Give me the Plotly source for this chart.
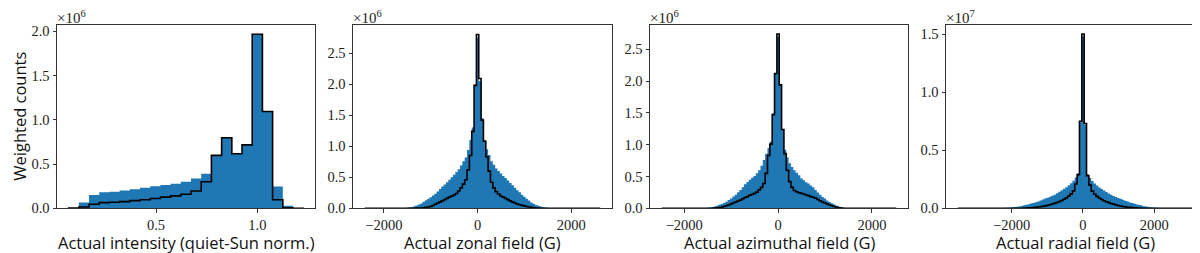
import plotly.graph_objects as go

# ---------------- data ----------------
# Panel 1: intensity (counts in units of 1e6)
int_bin_start = 0.069
int_bin_width = 0.0503
int_blue = [0.0, 0.065, 0.152, 0.181, 0.188, 0.203, 0.217, 0.232, 0.250, 0.264, 0.279, 0.300,
            0.337, 0.390, 0.598, 0.797, 0.616, 0.717, 1.967, 1.094, 0.246, 0.029, 0.0]
int_black = [0.002, 0.015, 0.047, 0.065, 0.069, 0.076, 0.087, 0.098, 0.112, 0.127, 0.141, 0.159,
             0.196, 0.300, 0.598, 0.797, 0.616, 0.717, 1.967, 1.094, 0.098, 0.007, 0.001]

# Panel 2: zonal field (G), counts in 1e6
zon_bin_start = -1625
zon_bin_width = 50
zon_blue = [0.003, 0.006, 0.010, 0.016, 0.022, 0.032, 0.045, 0.060,
            0.080, 0.105, 0.130, 0.155, 0.180, 0.205, 0.235, 0.270,
            0.310, 0.350, 0.385, 0.420, 0.460, 0.500, 0.540, 0.585,
            0.630, 0.690, 0.760, 0.820, 0.940, 1.100, 1.300, 1.980,
            2.750,
            2.050, 1.450, 1.100, 0.950, 0.860, 0.760, 0.700, 0.640,
            0.600, 0.560, 0.520, 0.490, 0.450, 0.410, 0.370, 0.330,
            0.290, 0.260, 0.220, 0.185, 0.155, 0.125, 0.095, 0.075,
            0.055, 0.040, 0.028, 0.020, 0.013, 0.008, 0.005, 0.003]
zon_black = [0.000, 0.000, 0.000, 0.000, 0.001, 0.002, 0.003, 0.004,
             0.005, 0.010, 0.015, 0.022, 0.030, 0.045, 0.065, 0.085,
             0.100, 0.120, 0.140, 0.160, 0.180, 0.195, 0.215, 0.240,
             0.280, 0.330, 0.390, 0.460, 0.620, 0.850, 1.240, 1.980,
             2.800,
             2.090, 1.420, 1.080, 0.830, 0.600, 0.420, 0.330, 0.270,
             0.230, 0.200, 0.180, 0.160, 0.140, 0.120, 0.100, 0.085,
             0.070, 0.058, 0.048, 0.040, 0.030, 0.022, 0.015, 0.010,
             0.006, 0.004, 0.002, 0.001, 0.000, 0.000, 0.000, 0.000]
zon_range = [-2409, 2618]

# Panel 3: azimuthal field (G), counts in 1e6
azi_bin_start = -1625
azi_bin_width = 50
azi_blue = [0.002, 0.004, 0.008, 0.013, 0.020, 0.030, 0.042, 0.055,
            0.068, 0.085, 0.105, 0.130, 0.155, 0.185, 0.215, 0.255,
            0.290, 0.330, 0.380, 0.415, 0.450, 0.480, 0.510, 0.550,
            0.600, 0.670, 0.760, 0.860, 0.950, 1.050, 1.500, 2.120,
            2.700,
            1.940, 1.240, 0.920, 0.800, 0.710, 0.650, 0.600, 0.560,
            0.520, 0.470, 0.440, 0.410, 0.390, 0.360, 0.330, 0.290,
            0.250, 0.215, 0.180, 0.155, 0.125, 0.100, 0.080, 0.060,
            0.042, 0.028, 0.018, 0.011, 0.006, 0.003, 0.002, 0.001]
azi_black = [0.000, 0.000, 0.000, 0.001, 0.002, 0.004, 0.007, 0.012,
             0.018, 0.028, 0.040, 0.052, 0.068, 0.083, 0.098, 0.115,
             0.130, 0.150, 0.170, 0.185, 0.205, 0.220, 0.235, 0.255,
             0.290, 0.330, 0.390, 0.550, 0.830, 1.010, 1.470, 2.120,
             2.740,
             1.940, 1.240, 0.860, 0.600, 0.420, 0.330, 0.280, 0.260,
             0.245, 0.235, 0.225, 0.210, 0.200, 0.185, 0.175, 0.160,
             0.140, 0.120, 0.100, 0.085, 0.068, 0.052, 0.040, 0.028,
             0.018, 0.010, 0.005, 0.002, 0.001, 0.000, 0.000, 0.000]
azi_range = [-2480, 2520]

# Panel 4: radial field (G), counts in 1e7
rad_bin_start = -2343
rad_bin_width = 66
rad_blue = [0.003, 0.004, 0.005, 0.006, 0.007, 0.009, 0.011, 0.013, 0.016, 0.020,
            0.026, 0.031, 0.036, 0.041, 0.047, 0.053, 0.060, 0.068, 0.076, 0.084,
            0.092, 0.100, 0.109, 0.118, 0.130, 0.142, 0.155, 0.168, 0.182, 0.198,
            0.215, 0.238, 0.265, 0.300, 0.740,
            1.480,
            0.720, 0.295, 0.262, 0.236, 0.213, 0.196, 0.180, 0.166, 0.153, 0.140,
            0.128, 0.116, 0.107, 0.098, 0.090, 0.082, 0.074, 0.066, 0.058, 0.051,
            0.045, 0.039, 0.034, 0.029, 0.024, 0.019, 0.015, 0.012, 0.010, 0.008,
            0.006, 0.005, 0.004, 0.003, 0.002]
rad_black = [0.000, 0.000, 0.000, 0.000, 0.000, 0.000, 0.001, 0.001, 0.001, 0.001,
             0.002, 0.003, 0.004, 0.005, 0.007, 0.009, 0.011, 0.014, 0.017, 0.021,
             0.026, 0.031, 0.037, 0.043, 0.050, 0.058, 0.068, 0.078, 0.090, 0.105,
             0.125, 0.150, 0.210, 0.290, 0.750,
             1.500,
             0.730, 0.280, 0.200, 0.148, 0.122, 0.103, 0.088, 0.076, 0.066, 0.057,
             0.049, 0.042, 0.036, 0.030, 0.025, 0.020, 0.016, 0.013, 0.010, 0.008,
             0.006, 0.004, 0.003, 0.002, 0.001, 0.001, 0.001, 0.000, 0.000, 0.000,
             0.000, 0.000, 0.000, 0.000, 0.000]
rad_range = [-3510, 3090]

x_titles = ["Actual intensity (quiet-Sun norm.)", "Actual zonal field (G)",
            "Actual azimuthal field (G)", "Actual radial field (G)"]
y_title = "Weighted counts"
exponents = ["6", "6", "6", "7"]

x_tickvals = [[0.5, 1.0], [-2000, 0, 2000], [-2000, 0, 2000], [-2000, 0, 2000]]
x_ticktext = [["0.5", "1.0"], ["\u22122000", "0", "2000"], ["\u22122000", "0", "2000"],
              ["\u22122000", "0", "2000"]]
y_tickvals = [[0, 0.5, 1.0, 1.5, 2.0], [0, 0.5, 1.0, 1.5, 2.0, 2.5],
              [0, 0.5, 1.0, 1.5, 2.0, 2.5], [0, 0.5, 1.0, 1.5]]
y_ticktext = [["0.0", "0.5", "1.0", "1.5", "2.0"], ["0.0", "0.5", "1.0", "1.5", "2.0", "2.5"],
              ["0.0", "0.5", "1.0", "1.5", "2.0", "2.5"], ["0.0", "0.5", "1.0", "1.5"]]

# ---------------- layout parameters ----------------
W, H = 1200, 253
x_dom_px = [(49, 307), (345, 604), (642, 900), (938, 1197)]
y_dom_px = (16.7, 206.7)
x_ranges = [[0.0116, 1.284], [-2660, 2870], [-2730, 2770], [-3840, 3420]]
y_ranges = [[0, 2.07], [0, 2.95], [0, 2.88], [0, 1.577]]
xtitle_y_px = 242
ytitle_x_px = 12

BLUE = "#1f77b4"
SERIF = "Liberation Serif, DejaVu Serif, serif"
SANS = "Open Sans, Lato, sans-serif"


def fill_xy(start, width, vals):
    n = len(vals)
    edges = [start + i * width for i in range(n + 1)]
    return [edges[0]] + edges[:n] + [edges[n]], [0] + list(vals) + [0]


def step_xy(lo, hi, start, width, vals):
    n = len(vals)
    edges = [start + i * width for i in range(n + 1)]
    xs = [lo, edges[0]] + edges[:n] + [edges[n], hi]
    ys = [0, 0] + list(vals) + [0, 0]
    return xs, ys


panels = [
    (int_bin_start, int_bin_width, int_blue, int_black,
     [int_bin_start, int_bin_start + int_bin_width * len(int_black)]),
    (zon_bin_start, zon_bin_width, zon_blue, zon_black, zon_range),
    (azi_bin_start, azi_bin_width, azi_blue, azi_black, azi_range),
    (rad_bin_start, rad_bin_width, rad_blue, rad_black, rad_range),
]

fig = go.Figure()
layout = dict(
    width=W, height=H, margin=dict(l=0, r=0, t=0, b=0),
    paper_bgcolor="white", plot_bgcolor="white", showlegend=False,
)
annotations = []
ydom = [(H - y_dom_px[1]) / H, (H - y_dom_px[0]) / H]

for i, (start, width, blue, black, rng) in enumerate(panels):
    k = "" if i == 0 else str(i + 1)
    xa, ya = "x" + k, "y" + k
    bx, by = fill_xy(start, width, blue)
    fig.add_trace(go.Scatter(
        x=bx, y=by, mode="lines", line=dict(width=0, shape="hv", color=BLUE),
        fill="tozeroy", fillcolor=BLUE, xaxis=xa, yaxis=ya, hoverinfo="skip"))
    sx, sy = step_xy(rng[0], rng[1], start, width, black)
    fig.add_trace(go.Scatter(
        x=sx, y=sy, mode="lines", line=dict(color="black", width=1.6, shape="hv"),
        xaxis=xa, yaxis=ya, hoverinfo="skip"))

    axis_common = dict(
        showline=True, mirror=True, linecolor="#333", linewidth=1,
        ticks="outside", ticklen=3.5, tickwidth=1, tickcolor="#333",
        showgrid=False, zeroline=False,
        tickfont=dict(family=SERIF, size=14.5, color="#222"),
    )
    layout["xaxis" + k] = dict(
        axis_common, domain=[x_dom_px[i][0] / W, x_dom_px[i][1] / W],
        range=x_ranges[i], anchor=ya,
        tickvals=x_tickvals[i], ticktext=x_ticktext[i],
    )
    layout["yaxis" + k] = dict(
        axis_common, domain=ydom, range=y_ranges[i], anchor=xa,
        tickvals=y_tickvals[i], ticktext=y_ticktext[i],
    )
    annotations.append(dict(
        text="\u00d710<sup>" + exponents[i] + "</sup>",
        xref="paper", yref="paper",
        x=x_dom_px[i][0] / W, y=ydom[1], xanchor="left", yanchor="bottom",
        showarrow=False, font=dict(family=SERIF, size=15, color="#222"),
        xshift=-2, yshift=-3,
    ))
    annotations.append(dict(
        text=x_titles[i], xref="paper", yref="paper",
        x=(x_dom_px[i][0] + x_dom_px[i][1]) / 2 / W, y=(H - xtitle_y_px) / H,
        xanchor="center", yanchor="middle", showarrow=False,
        font=dict(family=SANS, size=16.5, color="#111"),
    ))

annotations.append(dict(
    text=y_title, xref="paper", yref="paper",
    x=ytitle_x_px / W, y=(ydom[0] + ydom[1]) / 2, xanchor="center", yanchor="middle",
    textangle=-90, showarrow=False, font=dict(family=SANS, size=16.5, color="#111"),
))

layout["annotations"] = annotations
fig.update_layout(**layout)
fig.write_html("out.html")
